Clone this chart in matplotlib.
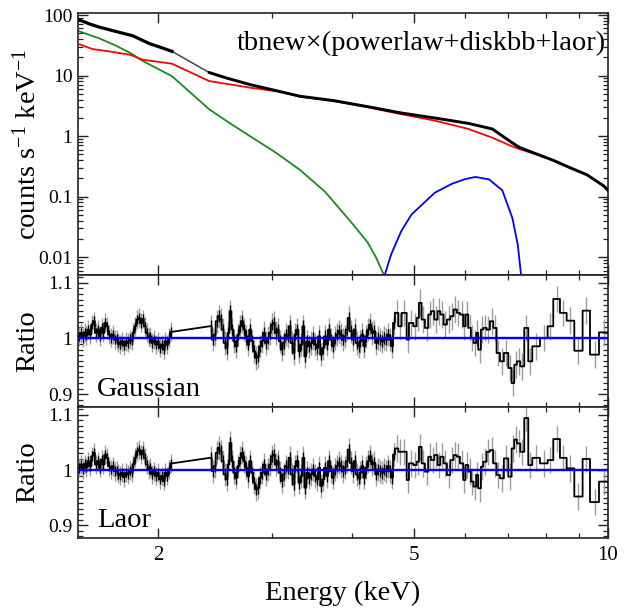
import numpy as np
import matplotlib
matplotlib.use("Agg")
import matplotlib.pyplot as plt
from matplotlib.ticker import FixedLocator, LogLocator, NullFormatter, FixedFormatter, MultipleLocator

plt.rcParams['font.family'] = ['Liberation Serif', 'DejaVu Serif']
plt.rcParams['mathtext.fontset'] = 'custom'
plt.rcParams['mathtext.rm'] = 'Liberation Serif'
plt.rcParams['mathtext.it'] = 'Liberation Serif:italic'

# ---------------- top panel: folded spectrum (counts s^-1 keV^-1) ----------------
data_e_lo = [1.50, 1.564, 1.622, 1.72, 1.826, 1.94, 2.011, 2.10]
data_v_lo = [85, 71, 62.8, 53.3, 45.3, 33.5, 29.5, 25.1]
data_e_hi = [2.40, 2.553, 2.775, 3.034, 3.319, 3.744, 4.227, 4.77, 5.38, 6.07, 6.61,
             7.02, 7.28, 7.73, 8.21, 8.73, 9.27, 9.85, 10.0]
data_v_hi = [11.2, 9.1, 7.1, 5.7, 4.55, 3.86, 3.07, 2.41, 1.99, 1.62, 1.31,
             0.84, 0.65, 0.51, 0.40, 0.30, 0.23, 0.15, 0.127]

powerlaw_e = [1.50, 1.58, 1.68, 1.81, 1.89, 2.10, 2.40, 2.78, 3.13, 3.32, 3.74, 4.23, 4.77,
              5.38, 6.07, 6.61, 7.02, 7.28, 7.73, 8.21, 8.73, 9.27, 9.85, 10.0]
powerlaw_v = [33.5, 27.4, 25.0, 22.0, 18.3, 15.7, 8.1, 6.3, 5.3, 4.5, 3.8, 3.0, 2.3,
              1.80, 1.31, 0.94, 0.71, 0.61, 0.50, 0.40, 0.30, 0.23, 0.15, 0.127]

diskbb_e = [1.50, 1.62, 1.72, 1.81, 1.89, 2.10, 2.40, 2.584, 2.775, 3.034, 3.319, 3.63,
            3.97, 4.227, 4.357, 4.49]
diskbb_v = [54.7, 41.0, 31.0, 23.5, 17.5, 9.75, 2.76, 1.63, 1.0, 0.547, 0.277, 0.121,
            0.040, 0.0177, 0.010, 0.0049]

laor_e = [4.49, 4.60, 4.77, 4.95, 5.38, 5.72, 6.00, 6.22, 6.53, 6.85, 7.10, 7.24, 7.33]
laor_v = [0.0048, 0.011, 0.0268, 0.0507, 0.116, 0.163, 0.195, 0.211, 0.193, 0.127, 0.0446, 0.0161, 0.0048]

model_text = "tbnew\u00d7(powerlaw+diskbb+laor)"

# ---------------- ratio panels ----------------
# dense bins 1.50-2.10 keV (same in both panels)
low_range = (1.50, 2.10)
low_ratio = [1.004, 1.010, 1.001, 1.011, 1.005, 1.016, 1.007, 1.025, 1.031, 1.010,
             1.016, 1.004, 1.019, 1.010, 1.028, 1.022, 1.007, 1.001, 1.007, 0.998,
             0.999, 0.993, 0.990, 0.995, 0.987, 0.995, 0.992, 0.999, 0.996, 1.010,
             1.022, 1.034, 1.037, 1.028, 1.035, 1.022, 1.010, 1.001, 1.004, 0.992,
             0.998, 0.989, 0.995, 0.983, 0.989, 0.980, 0.995, 0.989, 1.001, 1.012]
# dense bins 2.40-4.67 keV (same in both panels)
mid_range = (2.404, 4.665)
mid_ratio = [1.022, 0.998, 1.007, 1.031, 1.040, 1.034, 1.016, 0.992, 0.983, 1.010,
             1.049, 1.016, 0.995, 0.986, 1.007, 1.022, 1.031, 1.016, 1.004, 0.989,
             1.016, 0.995, 0.977, 0.965, 0.968, 0.986, 0.995, 1.010, 0.992, 1.001,
             1.010, 1.025, 1.028, 1.010, 1.016, 0.995, 0.980, 0.992, 1.007, 1.004,
             1.022, 0.992, 0.974, 1.007, 1.016, 0.977, 0.989, 1.022, 0.968, 0.995,
             0.986, 0.992, 1.001, 0.989, 0.983, 1.004, 0.971, 0.983, 1.004, 0.989,
             1.016, 0.998, 0.986, 1.001, 1.007, 1.013, 1.007, 0.998, 1.004, 1.016,
             1.037, 1.013, 0.998, 1.016, 0.992, 0.986, 0.995, 1.007, 0.986, 1.004,
             1.016, 1.025, 1.010, 1.013, 0.992, 1.001, 0.998, 0.995, 1.001, 0.998,
             1.007, 0.998, 0.986, 1.028]
# coarse bins above 4.67 keV
high_edges = [4.665, 4.721, 4.777, 4.864, 4.904, 4.981, 5.041, 5.083, 5.132, 5.193, 5.256,
              5.306, 5.369, 5.434, 5.486, 5.552, 5.618, 5.686, 5.754, 5.823, 5.886, 5.956,
              6.006, 6.064, 6.122, 6.180, 6.240, 6.284, 6.345, 6.398, 6.475, 6.553, 6.631,
              6.711, 6.792, 6.889, 6.998, 7.082, 7.150, 7.218, 7.305, 7.410, 7.517, 7.626,
              7.838, 8.056, 8.221, 8.420, 8.624, 8.864, 9.131, 9.376, 9.683, 10.0]
gauss_high = [1.046, 1.022, 1.046, 0.998, 1.028, 1.022, 1.037, 1.064, 1.034, 1.019,
              1.043, 1.049, 1.034, 1.049, 1.043, 1.025, 1.034, 1.040, 1.052, 1.046,
              1.043, 1.022, 1.043, 1.019, 1.001, 0.992, 1.010, 0.980, 1.016, 1.019,
              1.016, 1.031, 1.019, 0.974, 0.959, 0.974, 0.947, 0.920, 0.953, 0.959,
              0.950, 1.019, 0.959, 0.986, 1.001, 1.022, 1.071, 1.046, 1.032, 0.978,
              1.050, 0.971, 1.011]
laor_high = [1.039, 1.033, 1.033, 0.982, 1.012, 1.009, 1.015, 1.042, 1.012, 0.997,
             1.024, 1.018, 1.027, 1.009, 1.024, 1.012, 0.991, 1.018, 1.027, 1.024,
             1.012, 0.982, 1.009, 0.997, 0.979, 0.970, 0.991, 0.967, 1.006, 1.015,
             1.033, 1.036, 1.012, 0.991, 0.985, 1.021, 0.988, 1.039, 1.055, 1.048,
             1.033, 1.094, 1.009, 1.022, 1.012, 1.018, 1.056, 1.022, 1.003, 0.952,
             1.020, 0.942, 0.979]
err_low, err_mid, err_high = 0.017, 0.021, 0.024

x_major = [2, 5, 10]
x_minor = [3, 4, 6, 7, 8, 9]

# ---------------- figure ----------------
fig = plt.figure(figsize=(6.24, 6.08), dpi=100)
L, W = 78 / 624, 530 / 624
ax1 = fig.add_axes([L, 1 - 275 / 608, W, 262 / 608])
ax2 = fig.add_axes([L, 1 - 407 / 608, W, 132 / 608])
ax3 = fig.add_axes([L, 1 - 538 / 608, W, 131 / 608])

SP = '#222222'


def style(ax):
    for s in ax.spines.values():
        s.set_linewidth(1.2)
        s.set_color(SP)
    ax.set_xscale('log')
    ax.set_xlim(1.5, 10)
    ax.xaxis.set_major_locator(FixedLocator(x_major))
    ax.xaxis.set_minor_locator(FixedLocator(x_minor))
    ax.xaxis.set_minor_formatter(NullFormatter())
    ax.tick_params(which='both', direction='in', top=True, right=True, color=SP,
                   labelsize=14, pad=4)
    ax.tick_params(which='major', length=7, width=1.0)
    ax.tick_params(which='minor', length=3.8, width=0.9)


# top panel
style(ax1)
ax1.set_yscale('log')
ax1.yaxis.set_minor_locator(LogLocator(base=10, subs=np.arange(2, 10), numticks=20))
ax1.yaxis.set_minor_formatter(NullFormatter())
ax1.set_yticks([0.01, 0.1, 1, 10, 100])
ax1.set_yticklabels(['0.01', '0.1', '1', '10', '100'])
ax1.set_ylim(0.00507, 108)
ax1.tick_params(axis='x', labelbottom=False)

ax1.plot(diskbb_e, diskbb_v, color='#1a8a1a', lw=1.3, zorder=2)
ax1.plot(laor_e, laor_v, color='#0000ff', lw=1.3, zorder=2)
ax1.plot(powerlaw_e, powerlaw_v, color='#ff0000', lw=1.3, zorder=3)
ax1.plot([data_e_lo[-1], data_e_hi[0]], [data_v_lo[-1], data_v_hi[0]], color='#444444', lw=1.1, zorder=4)
ax1.plot(data_e_lo, data_v_lo, color='black', lw=2.3, zorder=4, solid_joinstyle='round')
ax1.plot(data_e_hi, data_v_hi, color='black', lw=2.1, zorder=4, solid_joinstyle='round')
ax1.text(0.995, 0.885, model_text, transform=ax1.transAxes, ha='right', va='center', fontsize=20.5)

# ratio panels
low_edges = np.geomspace(low_range[0], low_range[1], len(low_ratio) + 1)
mid_edges = np.geomspace(mid_range[0], mid_range[1], len(mid_ratio) + 1)


def step_xy(edges, vals):
    edges = np.asarray(edges)
    xs = np.column_stack([edges[:-1], edges[1:]]).ravel()
    ys = np.repeat(np.asarray(vals), 2)
    return xs, ys


for ax, high, name in [(ax2, gauss_high, 'Gaussian'), (ax3, laor_high, 'Laor')]:
    style(ax)
    ax.set_ylim(0.877, 1.114)
    ax.yaxis.set_major_locator(FixedLocator([0.9, 1.0, 1.1]))
    ax.yaxis.set_major_formatter(FixedFormatter(['0.9', '1', '1.1']))
    ax.yaxis.set_minor_locator(MultipleLocator(0.01))
    segs = [(low_edges, low_ratio, err_low, True), (mid_edges, mid_ratio, err_mid, True),
            (np.asarray(high_edges), high, err_high, False)]
    X, Y = [], []
    for ed, vals, er, dense in segs:
        ed = np.asarray(ed)
        cen = np.sqrt(ed[:-1] * ed[1:])
        v = np.asarray(vals)
        ax.vlines(cen, v - er, v + er, color='#9c9c9c', lw=1.0, zorder=2)
        if dense:
            ax.vlines(cen, v - 0.5 * er, v + 0.5 * er, color='black', lw=1.0, zorder=3)
        xs, ys = step_xy(ed, vals)
        X.append(xs)
        Y.append(ys)
    ax.plot(np.concatenate(X), np.concatenate(Y), color='black', lw=1.3, zorder=3)
    ax.axhline(1.0, color='#0000ff', lw=1.7, zorder=4)
    ax.text(0.036, 0.085, name, transform=ax.transAxes, ha='left', va='baseline', fontsize=20.5)

ax2.tick_params(axis='x', labelbottom=False)
ax3.set_xticklabels(['2', '5', '10'])
ax3.tick_params(axis='x', labelsize=15, pad=6)

# axis labels
fig.text(0.044, 1 - 144 / 608, 'counts s$^{-1}$ keV$^{-1}$', rotation=90, ha='center', va='center', fontsize=20.5)
fig.text(0.044, 1 - 341 / 608, 'Ratio', rotation=90, ha='center', va='center', fontsize=20.5)
fig.text(0.044, 1 - 472 / 608, 'Ratio', rotation=90, ha='center', va='center', fontsize=20.5)
fig.text(343 / 624, 1 - 593 / 608, 'Energy (keV)', ha='center', va='center', fontsize=20.5)

fig.savefig('out.png', dpi=100)
